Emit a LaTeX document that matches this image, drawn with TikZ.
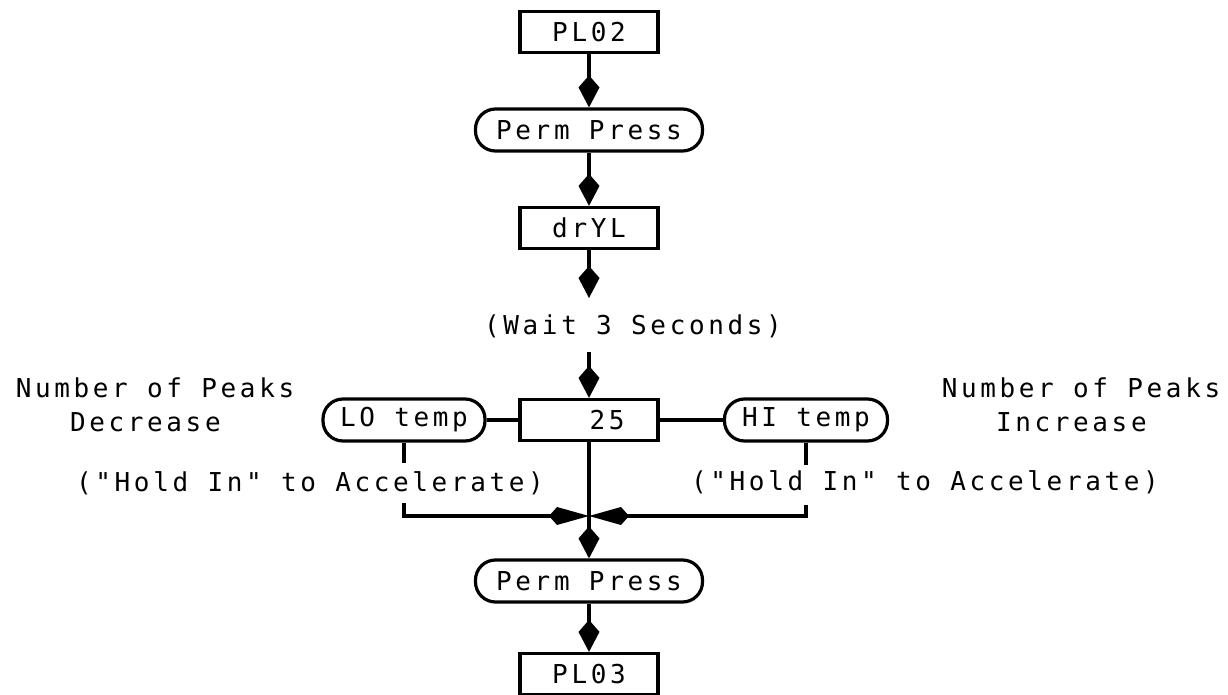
\documentclass[tikz,border=0pt]{standalone}
\usepackage{fontspec}
\setmonofont[LetterSpace=14]{DejaVu Sans Mono}
\usetikzlibrary{arrows.meta, calc, positioning}

\begin{document}
\begin{tikzpicture}[x=0.5pt, y=-0.5pt, line width=1.6pt,
    font=\ttfamily\fontsize{13}{17}\selectfont,
    panel/.style={draw, inner sep=0pt, minimum width=69pt, minimum height=20.5pt},
    pill/.style={draw, rounded corners=10pt, inner sep=0pt, minimum height=21pt},
    vflow/.style={-{Kite[length=16pt, width=10.5pt, inset=6pt]}},
    hflow/.style={-{Kite[length=20pt, width=9pt, inset=4pt]}}]
    \useasboundingbox (0, 0) rectangle (1228, 695);
    % main column
    \node[panel] (pl02) at (589, 32) {PL02};
    \node[pill, minimum width=113.5pt] (pp1) at (589, 130) {Perm Press};
    \node[panel] (dryl) at (589, 228) {drYL};
    \node (wait) at (633, 326) {(Wait 3 Seconds)};
    \coordinate (waittop) at (589, 298);
    \coordinate (waitbot) at (589, 352);
    \node[panel] (val) at (589, 420) {\hspace*{18pt}25};
    \node[pill, minimum width=113.5pt] (pp2) at (589, 581) {Perm Press};
    \node[panel] (pl03) at (589, 674) {PL03};
    % side branches
    \node[pill, minimum width=81pt] (lotemp) at (404, 420) {LO temp};
    \node[pill, minimum width=81.5pt] (hitemp) at (806, 420) {HI temp};
    \node[align=left] (lonote) at (155, 405) {Number of Peaks\\\phantom{Num}Decrease};
    \node[align=left] (hinote) at (1081, 405) {Number of Peaks\\\phantom{Num}Increase};
    \node (lohint) at (310, 483) {("Hold In" to Accelerate)};
    \node (hihint) at (925, 482) {("Hold In" to Accelerate)};
    \coordinate (lostop) at (404, 463);
    \coordinate (lostart) at (404, 503);
    \coordinate (histop) at (806, 465);
    \coordinate (histart) at (806, 505);
    \coordinate (join) at (589, 516);
    \draw[vflow] (pl02) -- (pp1);
    \draw[vflow] (pp1) -- (dryl);
    \draw[vflow] (dryl) -- (waittop);
    \draw[vflow] (waitbot) -- (val);
    \draw (lotemp) -- (val) -- (hitemp);
    \draw (lotemp) -- (lostop);
    \draw (hitemp) -- (histop);
    \draw[hflow] (lostart) |- (join);
    \draw[hflow] (histart) |- (join);
    \draw[vflow] (val) -- (pp2);
    \draw[vflow] (pp2) -- (pl03);
\end{tikzpicture}
\end{document}
